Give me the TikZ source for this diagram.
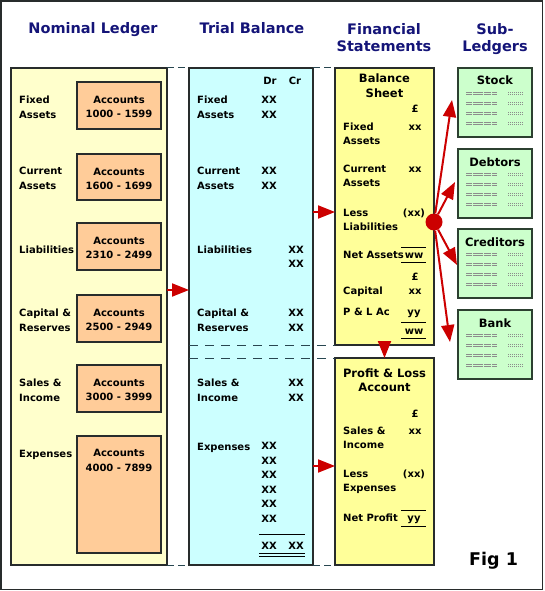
\documentclass[tikz,border=0pt]{standalone}
\usepackage{fontspec}
\setmainfont{DejaVu Sans}
\usetikzlibrary{arrows.meta}
\definecolor{navy}{RGB}{20,20,120}
\definecolor{ledgeryellow}{RGB}{255,255,204}
\definecolor{trialcyan}{RGB}{204,255,255}
\definecolor{finyellow}{RGB}{255,255,153}
\definecolor{subgreen}{RGB}{204,255,204}
\definecolor{accpeach}{RGB}{255,204,153}
\definecolor{arrowred}{RGB}{204,0,0}
\definecolor{edge}{RGB}{40,44,44}
\definecolor{subedge}{RGB}{44,64,48}
\definecolor{dashcol}{RGB}{40,70,80}
\definecolor{dummygray}{RGB}{140,140,140}
\begin{document}
\begin{tikzpicture}[x=1pt,y=-1pt,
  head/.style={font=\fontsize{14.5}{17}\selectfont\bfseries,text=navy,align=center,anchor=base,inner sep=0},
  txt/.style={font=\fontsize{10}{14.5}\selectfont\bfseries,align=left,anchor=base west,inner sep=0},
  num/.style={font=\fontsize{10}{14.5}\selectfont\bfseries,align=center,anchor=base,inner sep=0},
  subtitle/.style={font=\fontsize{11.5}{14.5}\selectfont\bfseries,align=center,anchor=base,inner sep=0},
  panel/.style={draw=edge,line width=1.5,anchor=north west,inner sep=0,outer sep=0},
  accbox/.style={draw=edge,fill=accpeach,line width=1.2,minimum width=84,anchor=north west,inner sep=0,outer sep=0},
  subbox/.style={draw=subedge,fill=subgreen,line width=2,minimum width=74,minimum height=69,anchor=north west,inner sep=0,outer sep=0},
  linkdash/.style={draw=dashcol,line width=1,dash pattern=on 7 off 4},
  sepdash/.style={draw=dashcol,line width=1,dash pattern=on 9 off 7},
  rule/.style={draw=black,line width=1},
  dummy/.style={draw=dummygray,line width=0.6},
  redarr/.style={draw=arrowred,line width=2,-{Triangle[length=17,width=13]}},
  hubdot/.style={circle,fill=arrowred,minimum size=17,inner sep=0}]
\useasboundingbox (0,0) rectangle (544,591);
\draw[edge,line width=1.5] (1,1) rectangle (542.5,589.5);
% headings (base = last line)
\node[head] at (93,34) {Nominal Ledger};
\node[head] at (252,34) {Trial Balance};
\node[head] at (384,52) {Financial\\Statements};
\node[head] at (495,52) {Sub-\\Ledgers};
% panels
\node[panel,fill=ledgeryellow,minimum width=156,minimum height=497] (nl) at (11,68) {};
\node[panel,fill=trialcyan,minimum width=124,minimum height=497] (tb) at (189,68) {};
\node[panel,fill=finyellow,minimum width=99,minimum height=277] (bs) at (335,68) {};
\node[panel,fill=finyellow,minimum width=99,minimum height=207] (pl) at (335,358) {};
\draw[linkdash] (nl.north east) -- (tb.north west);
\draw[linkdash] (nl.south east) -- (tb.south west);
\draw[linkdash] (tb.north east) -- (bs.north west);
\draw[linkdash] (tb.south east) -- (pl.south west);
\draw[sepdash] (tb.west |- bs.south west) -- (bs.south west);
\draw[sepdash] (tb.west |- pl.north west) -- (pl.north west);
% nominal ledger
\node[txt] at (19,118) {Fixed\\Assets};
\node[txt] at (19,189) {Current\\Assets};
\node[txt] at (19,253) {Liabilities};
\node[txt] at (19,331) {Capital \&\\Reserves};
\node[txt] at (19,401) {Sales \&\\Income};
\node[txt] at (19,457) {Expenses};
\node[accbox,minimum height=47] (acc1) at (77,82) {};
\node[accbox,minimum height=46] (acc2) at (77,154) {};
\node[accbox,minimum height=47] (acc3) at (77,223) {};
\node[accbox,minimum height=47] (acc4) at (77,295) {};
\node[accbox,minimum height=47] (acc5) at (77,365) {};
\node[accbox,minimum height=117] (acc6) at (77,436) {};
\node[num] at (119,117.5) {Accounts\\1000 - 1599};
\node[num] at (119,189.5) {Accounts\\1600 - 1699};
\node[num] at (119,258.5) {Accounts\\2310 - 2499};
\node[num] at (119,330.5) {Accounts\\2500 - 2949};
\node[num] at (119,400.5) {Accounts\\3000 - 3999};
\node[num] at (119,471) {Accounts\\4000 - 7899};
% trial balance
\node[num] at (270,85) {Dr};
\node[num] at (295,85) {Cr};
\node[txt] at (197,118) {Fixed\\Assets};
\node[num] at (269,118) {XX\\XX};
\node[txt] at (197,189) {Current\\Assets};
\node[num] at (269,189) {XX\\XX};
\node[txt] at (197,253) {Liabilities};
\node[num] at (296,267.5) {XX\\XX};
\node[txt] at (197,331) {Capital \&\\Reserves};
\node[num] at (296,331) {XX\\XX};
\node[txt] at (197,401) {Sales \&\\Income};
\node[num] at (296,401) {XX\\XX};
\node[txt] at (197,450) {Expenses};
\node[num] at (269,522) {XX\\XX\\XX\\XX\\XX\\XX};
\draw[rule] (259,534) -- (305,534);
\node[num] at (269,549) {XX};
\node[num] at (296,549) {XX};
\draw[rule] (259,553.5) -- (305,553.5);
\draw[rule] (259,556.5) -- (305,556.5);
% balance sheet
\node[subtitle] at (384.5,97.5) {Balance\\Sheet};
\node[num] at (415,113) {£};
\node[txt] at (343,144.5) {Fixed\\Assets};
\node[num] at (415,130) {xx};
\node[txt] at (343,186.5) {Current\\Assets};
\node[num] at (415,172) {xx};
\node[txt] at (343,230.5) {Less\\Liabilities};
\node[num] at (414,216) {(xx)};
\draw[rule] (401,247) -- (426,247);
\node[txt] at (343,258) {Net Assets};
\node[num] at (414,258) {ww};
\draw[rule] (401,262) -- (426,262);
\node[num] at (415,280) {£};
\node[txt] at (343,294) {Capital};
\node[num] at (415,294) {xx};
\node[txt] at (343,315) {P \& L Ac};
\node[num] at (414,315) {yy};
\draw[rule] (401,322) -- (426,322);
\node[num] at (414,334) {ww};
\draw[rule] (401,338) -- (426,338);
% profit and loss
\node[subtitle] at (384.5,391.5) {Profit \& Loss\\Account};
\node[num] at (415,417) {£};
\node[txt] at (343,448.5) {Sales \&\\Income};
\node[num] at (415,434) {xx};
\node[txt] at (343,491.5) {Less\\Expenses};
\node[num] at (414,477) {(xx)};
\draw[rule] (401,510) -- (426,510);
\node[txt] at (343,521) {Net Profit};
\node[num] at (414,521) {yy};
\draw[rule] (401,526) -- (426,526);
% sub-ledgers
\node[subbox] (stock) at (458,68) {};
\node[subbox] (debtors) at (458,149) {};
\node[subbox] (creditors) at (458,229) {};
\node[subbox] (bank) at (458,310) {};
\node[subtitle] at (495,84.5) {Stock};
\node[subtitle] at (495,166) {Debtors};
\node[subtitle] at (495,246) {Creditors};
\node[subtitle] at (495,327) {Bank};
\foreach \t in {68,149,229,310}{
  \foreach \r in {25,35,45,55}{
    \draw[dummy,dash pattern=on 6 off 1 on 10 off 1 on 7 off 1] (466,\t+\r-1) -- (497,\t+\r-1) (466,\t+\r+1) -- (497,\t+\r+1);
    \draw[dummy,dash pattern=on 1 off 1] (508,\t+\r-1) -- (524,\t+\r-1) (508,\t+\r+1) -- (524,\t+\r+1);
  }
}
\node[font=\fontsize{17.5}{20}\selectfont\bfseries,anchor=base west,inner sep=0] at (469,565) {Fig 1};
% arrows
\draw[redarr] (nl.east |- 0,290) -- (tb.west |- 0,290);
\draw[redarr] (tb.east |- 0,212) -- (bs.west |- 0,212);
\draw[redarr] (tb.east |- 0,466) -- (pl.west |- 0,466);
\draw[redarr,shorten <=-7] (bs.south) -- (pl.north);
\node[hubdot] (hub) at (434,222) {};
\coordinate (tostock) at (452,100);
\coordinate (todebtors) at (455,182);
\coordinate (tocreditors) at (457,265);
\coordinate (tobank) at (450,342);
\draw[redarr] (hub) -- (tostock);
\draw[redarr] (hub) -- (todebtors);
\draw[redarr] (hub) -- (tocreditors);
\draw[redarr] (hub) -- (tobank);
\end{tikzpicture}
\end{document}
